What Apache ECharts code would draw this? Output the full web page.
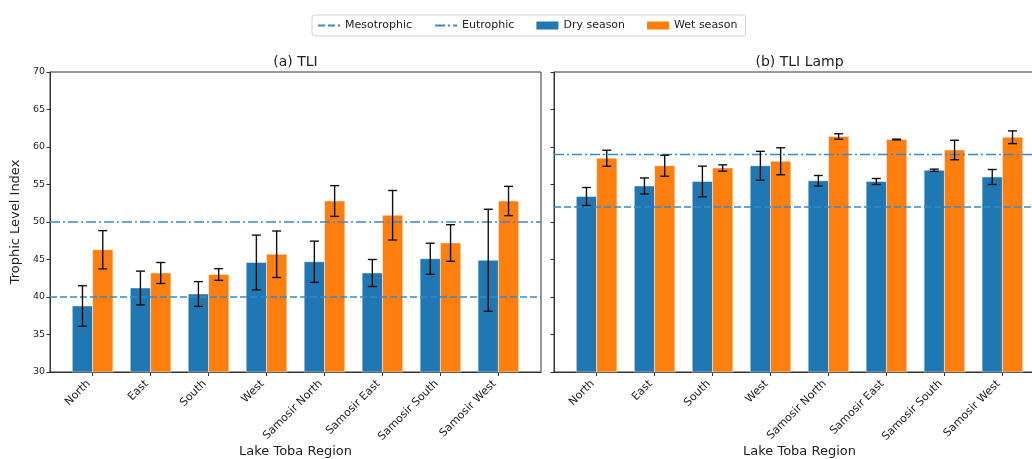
<!DOCTYPE html>
<html>
<head>
<meta charset="utf-8">
<title>Trophic Level Index by Lake Toba Region</title>
<script src="https://cdn.jsdelivr.net/npm/echarts@6/dist/echarts.min.js"></script>
<style>
  html, body { margin: 0; padding: 0; background: #fff; }
  #chart { width: 1032px; height: 459px; }
</style>
</head>
<body>
<div id="chart"></div>
<script>
// Regions along the lake (shared by both panels)
const categories = ['North', 'East', 'South', 'West', 'Samosir North', 'Samosir East', 'Samosir South', 'Samosir West'];

// (a) TLI — mean and standard deviation per season
const tliDry = [38.8, 41.2, 40.4, 44.6, 44.7, 43.2, 45.1, 44.9];
const tliDryErr = [2.7, 2.25, 1.65, 3.65, 2.75, 1.8, 2.07, 6.8];
const tliWet = [46.3, 43.2, 43.0, 45.7, 52.8, 50.9, 47.2, 52.8];
const tliWetErr = [2.55, 1.4, 0.78, 3.1, 2.05, 3.3, 2.44, 1.95];

// (b) TLI Lamp — mean and standard deviation per season
const lampDry = [53.4, 54.8, 55.4, 57.5, 55.5, 55.4, 56.9, 56.0];
const lampDryErr = [1.2, 1.07, 2.05, 1.92, 0.7, 0.4, 0.15, 1.0];
const lampWet = [58.5, 57.5, 57.2, 58.1, 61.4, 61.0, 59.6, 61.3];
const lampWetErr = [1.07, 1.4, 0.42, 1.8, 0.36, 0.05, 1.3, 0.85];

// Trophic-state thresholds for each index
const tliThresholds = { meso: 40, eu: 50 };
const lampThresholds = { meso: 52, eu: 59 };

// Y-axis ticks
const yMin = 30, yMax = 70, yStep = 5;

// ---- layout / styling ----
const FONT = 'DejaVu Sans';
const DRY = '#1f77b4';
const WET = '#ff7f0e';
const REF = '#3a88c8';
const BAR_W = 0.35;
const X_MIN = -0.735, X_MAX = 7.735;
const idx = categories.map((_, i) => i);

const chart = echarts.init(document.getElementById('chart'), null, { renderer: 'canvas' });

function barSeries(name, values, panel, side, color) {
  return {
    name: name,
    type: 'custom',
    xAxisIndex: panel, yAxisIndex: panel,
    itemStyle: { color: color },
    z: 2,
    data: values.map((v, i) => [i, v]),
    renderItem: function (params, api) {
      const x = api.value(0), y = api.value(1);
      const left = side < 0 ? x - BAR_W : x;
      const p0 = api.coord([left, y]);
      const p1 = api.coord([left + BAR_W, yMin]);
      return {
        type: 'rect',
        shape: { x: p0[0], y: p0[1], width: p1[0] - p0[0], height: p1[1] - p0[1] },
        style: { fill: color, stroke: 'rgba(255,255,255,0.45)', lineWidth: 1 }
      };
    }
  };
}

function errSeries(values, errs, panel, side) {
  return {
    type: 'custom',
    xAxisIndex: panel, yAxisIndex: panel,
    z: 5,
    silent: true,
    data: values.map((v, i) => [i, v, errs[i]]),
    renderItem: function (params, api) {
      const x = api.value(0) + side * BAR_W / 2;
      const y = api.value(1), e = api.value(2);
      const top = api.coord([x, y + e]);
      const bot = api.coord([x, y - e]);
      const cap = 4.5;
      const st = { stroke: '#111', lineWidth: 1.4 };
      return {
        type: 'group',
        children: [
          { type: 'line', shape: { x1: top[0], y1: top[1], x2: bot[0], y2: bot[1] }, style: st },
          { type: 'line', shape: { x1: top[0] - cap, y1: top[1], x2: top[0] + cap, y2: top[1] }, style: st },
          { type: 'line', shape: { x1: bot[0] - cap, y1: bot[1], x2: bot[0] + cap, y2: bot[1] }, style: st }
        ]
      };
    }
  };
}

function refLine(name, value, panel, dash) {
  return {
    name: name,
    type: 'line',
    xAxisIndex: panel, yAxisIndex: panel,
    symbol: 'none',
    silent: true,
    z: 4,
    itemStyle: { color: REF },
    lineStyle: { color: REF, width: 1.6, type: dash },
    data: [[X_MIN, value], [X_MAX, value]]
  };
}

function xAxis(panel) {
  return {
    type: 'value',
    gridIndex: panel,
    min: X_MIN, max: X_MAX,
    name: 'Lake Toba Region',
    nameLocation: 'middle',
    nameGap: 73,
    nameMoveOverlap: false,
    nameTextStyle: { fontFamily: FONT, fontSize: 13, color: '#222', verticalAlign: 'top' },
    axisLine: { show: true, onZero: false, lineStyle: { color: '#333', width: 1 } },
    axisTick: { show: true, length: 4, customValues: idx, lineStyle: { color: '#333' } },
    axisLabel: {
      show: true, customValues: idx, rotate: 45, margin: 14,
      align: 'right', verticalAlign: 'bottom',
      fontFamily: FONT, fontSize: 11, color: '#222',
      formatter: function (v) { return categories[Math.round(v)]; }
    },
    splitLine: { show: false }
  };
}

function yAxis(panel, showLabels) {
  return {
    type: 'value',
    gridIndex: panel,
    min: yMin, max: yMax, interval: yStep,
    name: showLabels ? 'Trophic Level Index' : '',
    nameLocation: 'middle',
    nameGap: 28,
    nameMoveOverlap: false,
    nameTextStyle: { fontFamily: FONT, fontSize: 13, color: '#222' },
    axisLine: { show: true, onZero: false, lineStyle: { color: '#333', width: 1 } },
    axisTick: { show: true, length: 3.5, lineStyle: { color: '#333' } },
    axisLabel: { show: showLabels, margin: 5, fontFamily: FONT, fontSize: 9.5, color: '#222' },
    splitLine: { show: false }
  };
}

const gridBase = {
  top: 72, width: 491, height: 300,
  show: true, borderColor: '#333', borderWidth: 1, backgroundColor: 'transparent',
  containLabel: false, outerBoundsMode: 'none'
};

const option = {
  animation: false,
  backgroundColor: '#fff',
  textStyle: { fontFamily: FONT },
  title: [
    { text: '(a) TLI', left: 295.5, top: 55, textAlign: 'center', padding: 0,
      textStyle: { fontFamily: FONT, fontSize: 14, fontWeight: 'normal', color: '#222' } },
    { text: '(b) TLI Lamp', left: 799.5, top: 55, textAlign: 'center', padding: 0,
      textStyle: { fontFamily: FONT, fontSize: 14, fontWeight: 'normal', color: '#222' } }
  ],
  legend: {
    left: 312, top: 15,
    padding: [5, 8, 5, 5],
    itemGap: 22,
    itemWidth: 22, itemHeight: 8,
    borderColor: '#d0d0d0', borderWidth: 1, borderRadius: 3,
    textStyle: { fontFamily: FONT, fontSize: 11, color: '#222' },
    data: [
      { name: 'Mesotrophic', itemStyle: { opacity: 0 } },
      { name: 'Eutrophic', itemStyle: { opacity: 0 } },
      { name: 'Dry season', icon: 'rect' },
      { name: 'Wet season', icon: 'rect' }
    ]
  },
  grid: [
    Object.assign({ left: 50 }, gridBase),
    Object.assign({ left: 554 }, gridBase)
  ],
  xAxis: [xAxis(0), xAxis(1)],
  yAxis: [yAxis(0, true), yAxis(1, false)],
  series: [
    barSeries('Dry season', tliDry, 0, -1, DRY),
    barSeries('Wet season', tliWet, 0, 1, WET),
    barSeries('Dry season', lampDry, 1, -1, DRY),
    barSeries('Wet season', lampWet, 1, 1, WET),
    refLine('Mesotrophic', tliThresholds.meso, 0, [7, 3]),
    refLine('Eutrophic', tliThresholds.eu, 0, [10, 3, 2, 3]),
    refLine('Mesotrophic', lampThresholds.meso, 1, [7, 3]),
    refLine('Eutrophic', lampThresholds.eu, 1, [10, 3, 2, 3]),
    errSeries(tliDry, tliDryErr, 0, -1),
    errSeries(tliWet, tliWetErr, 0, 1),
    errSeries(lampDry, lampDryErr, 1, -1),
    errSeries(lampWet, lampWetErr, 1, 1)
  ]
};

chart.setOption(option);
</script>
</body>
</html>
